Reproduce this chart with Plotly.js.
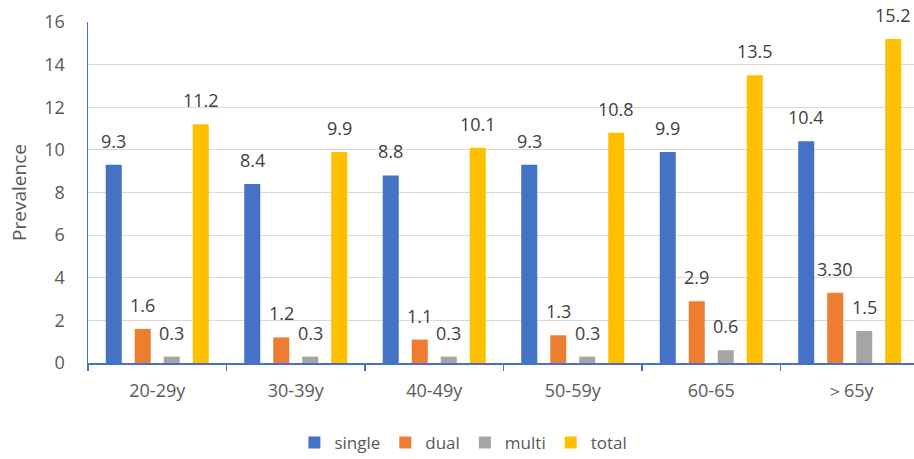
<!DOCTYPE html>
<html>
<head>
<meta charset="utf-8">
<script src="https://cdn.plot.ly/plotly-3.0.1.min.js"></script>
<style>html,body{margin:0;padding:0;background:#fff;}#chart{width:914px;height:459px;}</style>
</head>
<body>
<div id="chart"></div>
<script>
const categories = ['20-29y', '30-39y', '40-49y', '50-59y', '60-65', '＞65y'];
const seriesNames = ['single', 'dual', 'multi', 'total'];
const single = [9.3, 8.4, 8.8, 9.3, 9.9, 10.4];
const dual = [1.6, 1.2, 1.1, 1.3, 2.9, 3.3];
const multi = [0.3, 0.3, 0.3, 0.3, 0.6, 1.5];
const total = [11.2, 9.9, 10.1, 10.8, 13.5, 15.2];
const singleLabels = ['9.3', '8.4', '8.8', '9.3', '9.9', '10.4'];
const dualLabels = ['1.6', '1.2', '1.1', '1.3', '2.9', '3.30'];
const multiLabels = ['0.3', '0.3', '0.3', '0.3', '0.6', '1.5'];
const totalLabels = ['11.2', '9.9', '10.1', '10.8', '13.5', '15.2'];
const yTicks = [0, 2, 4, 6, 8, 10, 12, 14, 16];

const colors = ['#4472C4', '#ED7D31', '#A5A5A5', '#FFC000'];
const values = [single, dual, multi, total];
const labels = [singleLabels, dualLabels, multiLabels, totalLabels];
const FONT = 'Open Sans, Noto Sans, sans-serif';
const pitchPx = 29;

const traces = values.map((v, i) => ({
  type: 'bar',
  name: seriesNames[i],
  x: categories,
  y: v,
  marker: {color: colors[i]},
  hoverinfo: 'x+y'
}));

const annotations = [];
values.forEach((v, i) => {
  v.forEach((val, j) => {
    annotations.push({
      x: categories[j], y: val, xref: 'x', yref: 'y',
      text: labels[i][j], showarrow: false,
      xanchor: 'center', yanchor: 'bottom',
      xshift: (i - 1.5) * pitchPx, yshift: 10,
      font: {family: FONT, size: 18, color: '#404040'}
    });
  });
});

const layout = {
  width: 914, height: 459,
  margin: {l: 88, r: 0, t: 22, b: 96},
  paper_bgcolor: '#ffffff', plot_bgcolor: '#ffffff',
  barmode: 'group', bargap: 0.1625, bargroupgap: 0.448,
  font: {family: FONT, size: 18, color: '#595959'},
  xaxis: {
    type: 'category', range: [-0.5, 5.464],
    showline: true, linecolor: '#4472C4', linewidth: 1.5,
    ticks: 'outside', tickson: 'boundaries', ticklen: 6, tickcolor: '#4472C4', tickwidth: 1.5,
    showgrid: false, zeroline: false,
    ticklabelstandoff: 11,
    tickfont: {family: FONT, size: 18, color: '#595959'}
  },
  yaxis: {
    range: [0, 16], tickvals: yTicks, ticktext: yTicks.map(String),
    showline: true, linecolor: '#4472C4', linewidth: 1.5,
    showgrid: true, gridcolor: '#D9D9D9', gridwidth: 1.2,
    zeroline: false, ticks: '',
    ticklabelstandoff: 18,
    tickfont: {family: FONT, size: 18, color: '#595959'},
    title: {text: 'Prevalence', font: {family: FONT, size: 19, color: '#595959'}, standoff: 12}
  },
  showlegend: true,
  legend: {
    orientation: 'h', xref: 'container', yref: 'container',
    x: 0.507, xanchor: 'center', y: 0.035, yanchor: 'middle',
    font: {family: FONT, size: 17, color: '#595959'},
    itemwidth: 30, traceorder: 'normal'
  },
  annotations: annotations
};

Plotly.newPlot('chart', traces, layout, {displayModeBar: false, staticPlot: true});
</script>
</body>
</html>
